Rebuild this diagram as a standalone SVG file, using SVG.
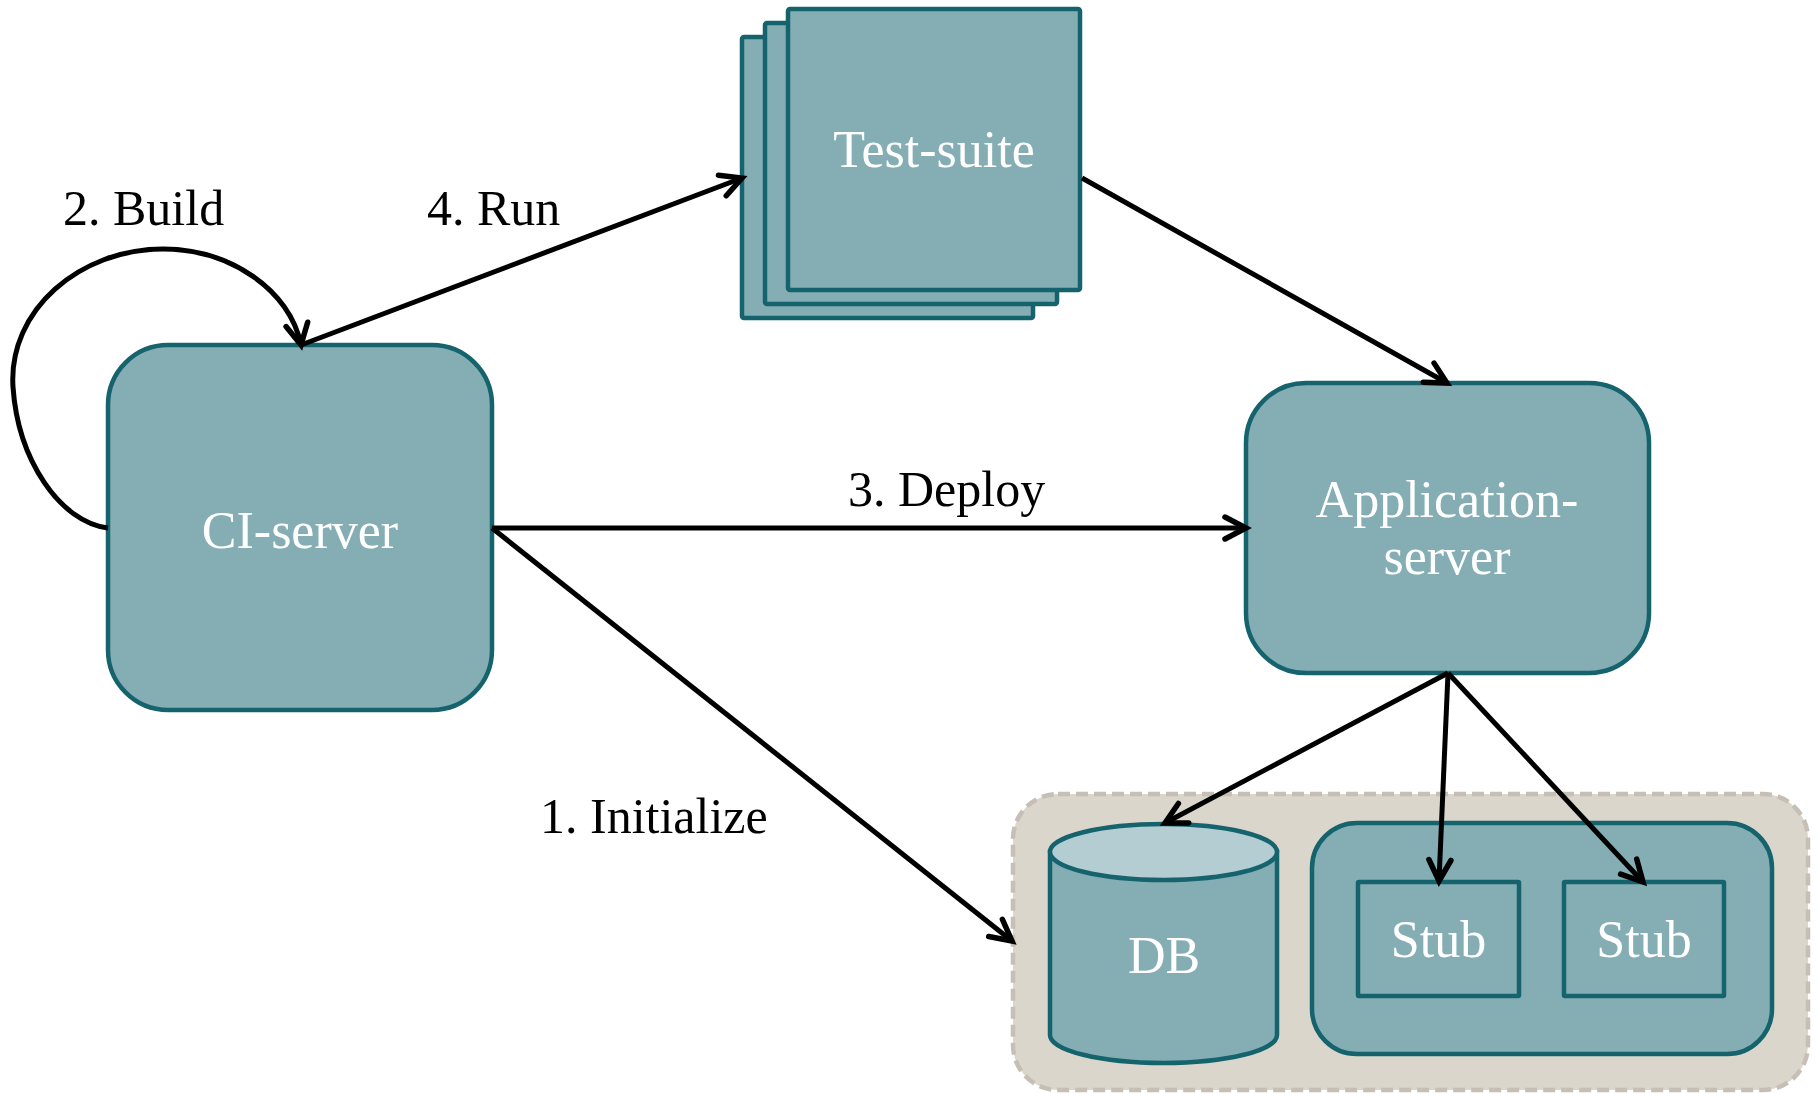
<svg xmlns="http://www.w3.org/2000/svg" width="1818" height="1093" viewBox="0 0 1818 1093">
<style>
.node{fill:#84aeb4;stroke:#14636d;stroke-width:4.5}
.lbl{font-family:"Liberation Serif","DejaVu Serif",serif;font-size:52px;fill:#ffffff;text-anchor:middle}
.elbl{font-family:"Liberation Serif","DejaVu Serif",serif;font-size:50px;fill:#000000}
.conn{fill:none;stroke:#000000;stroke-width:5;marker-end:url(#arr)}
</style>
<defs>
<marker id="arr" markerUnits="userSpaceOnUse" orient="auto" markerWidth="30" markerHeight="30" refX="0" refY="0" overflow="visible">
<path d="M-21,-11 L0,0 L-21,11" fill="none" stroke="#000" stroke-width="5.5" stroke-linecap="round" stroke-linejoin="miter"/>
</marker>
</defs>
<rect width="1818" height="1093" fill="#ffffff"/>

<g id="container">
<rect x="1013" y="794" width="795" height="296" rx="45" fill="#dad6cc" stroke="#c7beb5" stroke-width="4.5" stroke-dasharray="12,6"/>
</g>

<g id="test-suite">
<rect class="node" x="742" y="37" width="291" height="281" rx="2"/>
<rect class="node" x="765" y="23" width="292" height="281" rx="2"/>
<rect class="node" x="788" y="9" width="292" height="281" rx="2"/>
<text class="lbl" x="934" y="167">Test-suite</text>
</g>

<g id="ci-server">
<rect class="node" x="108" y="345" width="384" height="365" rx="60"/>
<text class="lbl" x="300" y="548">CI-server</text>
</g>

<g id="application-server">
<rect class="node" x="1246" y="383" width="403" height="290" rx="60"/>
<text class="lbl" x="1447" y="517">Application-</text>
<text class="lbl" x="1447" y="574">server</text>
</g>

<g id="db">
<path class="node" d="M1050,852 L1050,1035 A113.5,28 0 0 0 1277,1035 L1277,852 Z"/>
<ellipse cx="1163.5" cy="852" rx="113.5" ry="28" fill="#b4cdd3" stroke="#14636d" stroke-width="4.5"/>
<text class="lbl" x="1164" y="973">DB</text>
</g>

<g id="stub-group">
<rect class="node" x="1312" y="823" width="460" height="231" rx="45"/>
</g>

<g id="stub1">
<rect class="node" x="1358" y="882" width="161" height="114" rx="1"/>
<text class="lbl" x="1438.5" y="957">Stub</text>
</g>

<g id="stub2">
<rect class="node" x="1564" y="882" width="160" height="114" rx="1"/>
<text class="lbl" x="1644" y="957">Stub</text>
</g>

<g id="connectors">
<path class="conn" d="M108,528 C60,522 18,460 13,387 C8,310 80,249 163,249 C230,249 290,290 301,345"/>
<path class="conn" d="M301,345 L742,178"/>
<path class="conn" d="M1082,178 L1447,383"/>
<path class="conn" d="M492,528 L1246,528"/>
<path class="conn" d="M492,528 L1012,941"/>
<path class="conn" d="M1448,673 L1165,823"/>
<path class="conn" d="M1448,673 L1439,881"/>
<path class="conn" d="M1448,673 L1643,882"/>
</g>

<g id="labels">
<text class="elbl" x="63" y="225">2. Build</text>
<text class="elbl" x="427" y="225">4. Run</text>
<text class="elbl" x="848" y="506">3. Deploy</text>
<text class="elbl" x="540" y="833">1. Initialize</text>
</g>
</svg>
